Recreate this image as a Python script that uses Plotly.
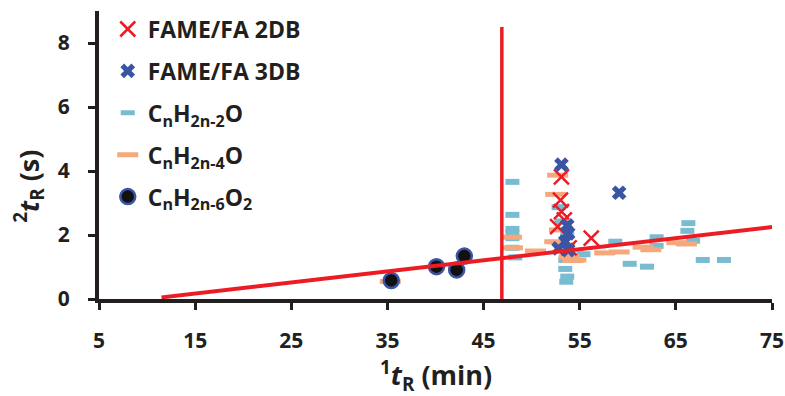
import plotly.graph_objects as go

# ---- data ----
db2_x = [53.1, 53.0, 53.1, 53.4, 52.7, 53.9, 56.2]
db2_y = [3.82, 3.09, 2.73, 2.47, 2.26, 1.60, 1.90]

db3_x = [53.1, 53.7, 53.8, 53.5, 52.8, 53.8, 59.1]
db3_y = [4.20, 2.30, 2.05, 1.79, 1.58, 1.53, 3.32]

o2_x = [48.0, 48.0, 48.0, 48.0, 48.0, 48.0, 48.3,
        52.8, 53.1, 53.5, 53.5, 53.7, 53.6, 53.7,
        55.4, 58.7, 60.2, 62.0, 63.0, 63.0, 66.3, 66.2, 66.8, 67.8, 70.0]
o2_y = [3.66, 2.63, 2.19, 2.06, 1.90, 1.60, 1.30,
        2.87, 2.42, 1.22, 0.94, 0.70, 0.54, 2.00,
        1.40, 1.79, 1.10, 1.01, 1.93, 1.66, 2.37, 2.13, 1.82, 1.22, 1.22]

o4_x = [35.3, 47.9, 48.0, 50.4, 52.7, 52.5, 52.9, 52.4, 53.4, 53.9, 54.3,
        54.6, 57.6, 59.1, 61.6, 62.4, 65.1, 66.1]
o4_y = [0.55, 1.93, 1.60, 1.50, 3.87, 3.27, 2.16, 1.79, 1.69, 1.32, 1.20,
        1.22, 1.44, 1.47, 1.62, 1.54, 1.76, 1.72]

o6_x = [35.4, 40.1, 42.2, 43.0]
o6_y = [0.58, 1.01, 0.91, 1.34]

fit_x = [11.5, 75.0]
fit_y = [0.05, 2.25]

cut_x = [46.9, 46.9]
cut_y = [0.0, 8.5]

x_ticks = [5, 15, 25, 35, 45, 55, 65, 75]
y_ticks = [0, 2, 4, 6, 8]

RED = "#ed1c24"
BLUE = "#3b55a5"
LBLUE = "#79bcd1"
ORANGE = "#f5a87b"
INK = "#231f20"
FONT = "Open Sans"

fig = go.Figure()

fig.add_trace(go.Scatter(
    x=o2_x, y=o2_y, mode="markers", name="C<sub>n</sub>H<sub>2n-2</sub>O",
    legendrank=3, legendgroup="c",
    marker=dict(symbol="line-ew-open", size=10, color=LBLUE,
                line=dict(color=LBLUE, width=6))))
fig.add_trace(go.Scatter(
    x=o4_x, y=o4_y, mode="markers", name="C<sub>n</sub>H<sub>2n-4</sub>O",
    legendrank=4, legendgroup="d",
    marker=dict(symbol="line-ew-open", size=15, color=ORANGE,
                line=dict(color=ORANGE, width=5))))
fig.add_trace(go.Scatter(
    x=o6_x, y=o6_y, mode="markers", name="C<sub>n</sub>H<sub>2n-6</sub>O<sub>2</sub>",
    legendrank=5, legendgroup="e",
    marker=dict(symbol="circle", size=15, color="#111111",
                line=dict(color=BLUE, width=2.5))))
fig.add_trace(go.Scatter(
    x=db2_x, y=db2_y, mode="markers", name="FAME/FA 2DB",
    legendrank=1, legendgroup="a",
    marker=dict(symbol="x-thin-open", size=15, color=RED,
                line=dict(color=RED, width=2.5))))
fig.add_trace(go.Scatter(
    x=db3_x, y=db3_y, mode="markers", name="FAME/FA 3DB",
    legendrank=2, legendgroup="b",
    marker=dict(symbol="x", size=13, color=BLUE, line=dict(width=0))))

fig.add_trace(go.Scatter(x=fit_x, y=fit_y, mode="lines", showlegend=False,
                         line=dict(color=RED, width=4), hoverinfo="skip"))
fig.add_trace(go.Scatter(x=cut_x, y=cut_y, mode="lines", showlegend=False,
                         line=dict(color=RED, width=3.5), hoverinfo="skip"))

axis_common = dict(
    showline=True, linecolor=INK, linewidth=4,
    ticks="outside", ticklen=7, tickwidth=3, tickcolor=INK,
    showgrid=False, zeroline=False, automargin=False,
    tickfont=dict(family=FONT, size=21, color=INK, weight="bold"),
)

fig.update_xaxes(range=[5, 75], tickvals=x_ticks, ticktext=[str(v) for v in x_ticks],
                 ticklabelstandoff=13, **axis_common)
fig.update_yaxes(range=[0, 9], tickvals=y_ticks, ticktext=[str(v) for v in y_ticks],
                 ticklabelstandoff=14, **axis_common)

fig.add_annotation(text="<b><sup>1</sup><i>t</i><sub>R</sub> (min)</b>",
                   xref="paper", yref="paper", x=0.5, y=-0.265,
                   xanchor="center", yanchor="middle", showarrow=False,
                   font=dict(family=FONT, size=27, color=INK))
fig.add_annotation(text="<b><sup>2</sup><i>t</i><sub>R</sub> (s)</b>",
                   xref="paper", yref="paper", x=-0.104, y=0.39,
                   xanchor="center", yanchor="middle", textangle=-90, showarrow=False,
                   font=dict(family=FONT, size=27, color=INK))
# top title of the panel, cut off by the page edge
fig.add_annotation(text="<b><sup>1</sup><i>t</i><sub>R</sub> (min)</b>",
                   xref="paper", yref="paper", x=0.5, y=1.0, yshift=5,
                   xanchor="center", yanchor="bottom", showarrow=False,
                   font=dict(family=FONT, size=27, color=INK))

fig.update_layout(
    width=785, height=396,
    margin=dict(l=99, r=13, t=11, b=97, autoexpand=False),
    paper_bgcolor="white", plot_bgcolor="white",
    font=dict(family=FONT, color=INK),
    legend=dict(x=0.013, y=1.012, xanchor="left", yanchor="top",
                bgcolor="rgba(0,0,0,0)", tracegroupgap=9, maxheight=390,
                font=dict(family=FONT, size=23, color=INK, weight="bold"),
                itemwidth=30),
)

fig.write_html("out.html", config={"displayModeBar": False},
               post_script="document.body.style.margin='0';document.documentElement.style.overflow='hidden';")
